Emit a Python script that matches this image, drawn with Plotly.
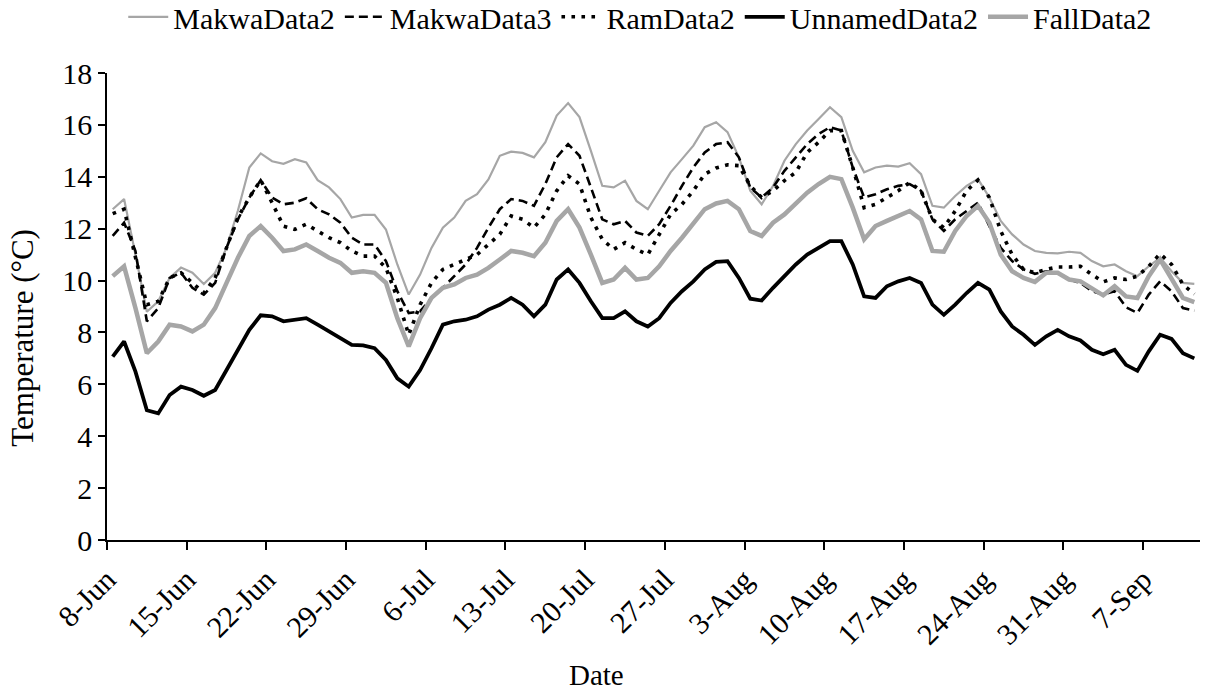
import pandas as pd
import plotly.graph_objects as go

start_date = "2013-06-08"
n_days = 96
dates = pd.date_range(start_date, periods=n_days, freq="D")

makwa2 = [12.75, 13.14, 11.0, 8.8, 9.2, 10.1, 10.5, 10.3, 9.87, 10.3, 11.26, 12.7, 14.36, 14.9, 14.6, 14.5,
          14.68, 14.55, 13.87, 13.59, 13.14, 12.43, 12.53, 12.53, 11.97, 10.62, 9.46, 10.23, 11.26, 12.04, 12.43, 13.07,
          13.33, 13.9, 14.81, 14.97, 14.92, 14.75, 15.33, 16.36, 16.84, 16.3, 15.0, 13.65, 13.59, 13.85, 13.07, 12.75,
          13.46, 14.17, 14.68, 15.2, 15.91, 16.1, 15.72, 14.75, 13.46, 12.94, 13.65, 14.62, 15.26, 15.78, 16.23, 16.68,
          16.3, 15.0, 14.17, 14.36, 14.43, 14.39, 14.52, 14.1, 12.88, 12.81, 13.26, 13.65, 13.91, 13.2, 12.3, 11.78,
          11.39, 11.14, 11.07, 11.05, 11.11, 11.07, 10.75, 10.55, 10.62, 10.36, 10.17, 10.55, 10.88, 10.36, 9.91, 9.87]

makwa3 = [11.72, 12.23, 11.14, 8.43, 8.94, 10.1, 10.3, 9.72, 9.46, 9.91, 11.26, 12.36, 13.2, 13.87, 13.2, 12.94,
          13.0, 13.17, 12.75, 12.55, 12.23, 11.65, 11.39, 11.39, 10.75, 9.59, 8.75, 8.81, 9.33, 9.72, 10.17, 10.62,
          11.26, 12.04, 12.75, 13.14, 13.07, 12.88, 13.72, 14.75, 15.26, 14.81, 13.59, 12.36, 12.17, 12.3, 11.85, 11.72,
          12.17, 12.88, 13.65, 14.36, 14.94, 15.26, 15.33, 14.75, 13.59, 13.2, 13.59, 14.23, 14.75, 15.26, 15.65, 15.91,
          15.78, 14.36, 13.2, 13.33, 13.52, 13.65, 13.72, 13.46, 12.36, 11.91, 12.36, 12.68, 13.0, 12.1, 11.26, 10.75,
          10.43, 10.26, 10.36, 10.3, 10.04, 9.91, 9.59, 9.46, 9.59, 8.97, 8.75, 9.46, 9.97, 9.59, 8.94, 8.84]

ram2 = [12.58, 12.75, 10.9, 9.07, 9.2, 10.1, 10.3, 9.91, 9.52, 10.1, 11.26, 12.43, 13.2, 13.87, 13.0, 12.1,
        11.97, 12.17, 11.91, 11.65, 11.46, 11.14, 10.94, 10.94, 10.49, 9.33, 7.91, 9.07, 9.91, 10.43, 10.62, 10.81,
        11.0, 11.39, 11.78, 12.49, 12.36, 12.04, 12.55, 13.46, 14.04, 13.72, 12.43, 11.59, 11.2, 11.46, 11.2, 11.0,
        11.78, 12.55, 12.94, 13.46, 14.1, 14.34, 14.46, 14.43, 13.65, 13.2, 13.46, 13.85, 14.17, 14.94, 15.33, 15.78,
        15.78, 14.36, 12.81, 12.94, 13.2, 13.46, 13.78, 13.46, 12.36, 12.04, 12.68, 13.46, 13.87, 13.2, 11.91, 11.0,
        10.43, 10.3, 10.43, 10.52, 10.52, 10.55, 10.23, 9.95, 10.1, 10.04, 10.17, 10.55, 11.03, 10.62, 9.85, 9.48]

unnamed2 = [7.07, 7.65, 6.49, 5.0, 4.88, 5.59, 5.91, 5.78, 5.56, 5.78, 6.55, 7.33, 8.1, 8.66, 8.62, 8.43,
            8.49, 8.55, 8.3, 8.04, 7.78, 7.52, 7.5, 7.39, 6.94, 6.23, 5.91, 6.55, 7.39, 8.3, 8.43, 8.49,
            8.62, 8.88, 9.07, 9.33, 9.07, 8.62, 9.07, 10.04, 10.43, 9.91, 9.2, 8.55, 8.55, 8.81, 8.43, 8.23,
            8.55, 9.14, 9.59, 9.97, 10.43, 10.72, 10.75, 10.1, 9.3, 9.23, 9.72, 10.17, 10.62, 11.0, 11.26, 11.52,
            11.52, 10.62, 9.39, 9.33, 9.78, 9.97, 10.1, 9.91, 9.07, 8.68, 9.07, 9.52, 9.91, 9.65, 8.81, 8.23,
            7.91, 7.52, 7.85, 8.1, 7.85, 7.69, 7.33, 7.16, 7.33, 6.75, 6.52, 7.27, 7.91, 7.75, 7.2, 7.0]

fall2 = [10.17, 10.55, 8.94, 7.2, 7.65, 8.3, 8.23, 8.04, 8.3, 8.94, 9.91, 10.88, 11.72, 12.1, 11.65, 11.14,
         11.2, 11.39, 11.14, 10.88, 10.68, 10.3, 10.36, 10.3, 9.91, 8.55, 7.46, 8.55, 9.33, 9.72, 9.85, 10.1,
         10.23, 10.49, 10.81, 11.14, 11.07, 10.94, 11.46, 12.3, 12.75, 12.04, 11.0, 9.91, 10.04, 10.49, 10.04, 10.1,
         10.55, 11.14, 11.65, 12.23, 12.75, 12.97, 13.07, 12.75, 11.91, 11.72, 12.23, 12.55, 13.0, 13.39, 13.72, 14.0,
         13.91, 12.81, 11.59, 12.1, 12.3, 12.49, 12.68, 12.36, 11.14, 11.11, 11.91, 12.49, 12.88, 12.23, 11.0, 10.36,
         10.1, 9.95, 10.3, 10.3, 10.04, 9.97, 9.72, 9.43, 9.78, 9.39, 9.33, 10.17, 10.81, 10.1, 9.33, 9.17]

tick_labels = ["8-Jun", "15-Jun", "22-Jun", "29-Jun", "6-Jul", "13-Jul", "20-Jul", "27-Jul",
               "3-Aug", "10-Aug", "17-Aug", "24-Aug", "31-Aug", "7-Sep"]
tick_dates = pd.date_range(start_date, periods=len(tick_labels), freq="7D")

x_title = "Date"
y_title = "Temperature (°C)"

half_day = pd.Timedelta(hours=12)
GRAY = "#A6A6A6"
FONT = "Liberation Serif, Times New Roman, serif"

series = [
    ("MakwaData2", makwa2, dict(color=GRAY, width=2.2)),
    ("MakwaData3", makwa3, dict(color="black", width=2.6, dash="9px,5px")),
    ("RamData2", ram2, dict(color="black", width=3.6, dash="3.6px,6.4px")),
    ("UnnamedData2", unnamed2, dict(color="black", width=3.8)),
    ("FallData2", fall2, dict(color=GRAY, width=4.5)),
]

fig = go.Figure()
for name, vals, line in series:
    fig.add_trace(go.Scatter(x=dates, y=vals, mode="lines", name=name, line=line))

fig.update_layout(
    width=1208, height=700,
    margin=dict(l=107, r=8, t=73, b=160, autoexpand=False),
    paper_bgcolor="white", plot_bgcolor="white",
    font=dict(family=FONT, color="black", size=28),
    showlegend=True,
    legend=dict(orientation="h", x=0.53, xanchor="center", xref="container",
                y=1.176, yanchor="top", yref="paper",
                font=dict(size=30, family=FONT), itemwidth=40,
                traceorder="normal", tracegroupgap=0),
    xaxis=dict(
        type="date",
        range=[dates[0] - half_day, dates[-1] + half_day],
        tickmode="array",
        tickvals=[d - half_day for d in tick_dates],
        ticktext=tick_labels,
        tickangle=-45,
        ticks="outside", ticklen=8, tickwidth=1.5, tickcolor="black",
        showline=True, linecolor="black", linewidth=2,
        showgrid=False, zeroline=False,
        tickfont=dict(size=30),
    ),
    yaxis=dict(
        range=[0, 18], dtick=2, tick0=0,
        ticks="outside", ticklen=7, tickwidth=1.5, tickcolor="black",
        showline=True, linecolor="black", linewidth=1.5,
        showgrid=False, zeroline=False,
        tickfont=dict(size=30),
    ),
    annotations=[
        dict(text=x_title, xref="paper", yref="paper", x=0.448, y=-0.289,
             xanchor="center", yanchor="middle", showarrow=False, font=dict(size=29)),
        dict(text=y_title, xref="paper", yref="paper", x=-0.078, y=0.4325,
             xanchor="center", yanchor="middle", showarrow=False, textangle=-90,
             font=dict(size=31)),
    ],
)

fig.write_html("out.html", config={"displayModeBar": False},
               post_script="document.body.style.margin='0';document.body.style.overflow='hidden';")
